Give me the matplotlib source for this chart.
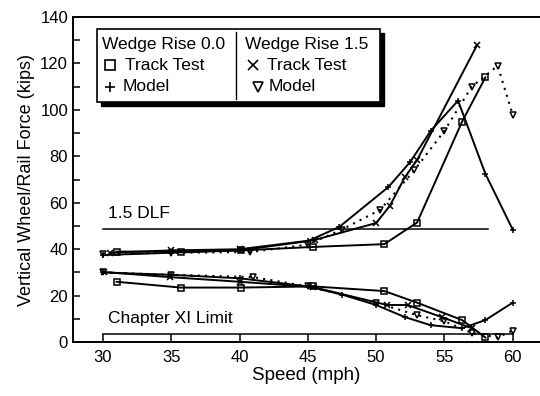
import matplotlib.pyplot as plt
from matplotlib.patches import Rectangle
from matplotlib.lines import Line2D

plt.rcParams['font.family'] = ['Liberation Sans', 'DejaVu Sans']

# Wedge Rise 0.0, track test (max and min forces)
tt0_x = [31, 35.7, 40.1, 45.4, 50.6, 53, 56.3, 58]
tt0_hi = [39, 39, 39.5, 41, 42.2, 51.5, 95, 114]
tt0_lo = [26, 23.5, 23.5, 24, 22, 17, 9.5, 2]

# Wedge Rise 0.0, model
md0_x_hi = [30, 35, 40, 45, 47.3, 50.9, 52.5, 54, 56, 58, 60]
md0_hi = [37.5, 38.5, 39.5, 43.5, 49.6, 66.8, 77.6, 91, 104, 72.5, 48.5]
md0_x_lo = [30, 35, 40, 45, 47.5, 50, 52.1, 54, 56.3, 58, 60]
md0_lo = [30, 29, 27.5, 24, 20.5, 16, 10.8, 7.3, 6, 9.5, 17]

# Wedge Rise 1.5, track test
tt1_x_hi = [30.5, 35, 40, 45.5, 50, 51, 52.1, 53, 57.4]
tt1_hi = [38.5, 39.5, 40, 44, 51.3, 58.6, 71, 78.4, 128]
tt1_x_lo = [30.1, 34.9, 40, 45.4, 50.8, 52.3, 54.8, 57]
tt1_lo = [30.2, 28, 26, 23.7, 16, 16, 10.8, 6]

# Wedge Rise 1.5, model
md1_x_hi = [30, 35, 40.8, 45, 47.5, 50.3, 52.8, 55, 57, 58.9, 60]
md1_hi = [38, 38.5, 38.8, 42, 48.5, 57, 74, 91, 110, 119, 98]
md1_x_lo = [30, 35, 41, 45, 50, 53, 55, 57, 58.9, 60]
md1_lo = [30, 29, 28, 24, 17, 11.6, 9, 4, 2, 5]

dlf_level = 48.7
limit_level = 3.5

fig = plt.figure(figsize=(5.4, 3.96), dpi=100)
ax = fig.add_axes([0.135, 0.136, 0.865, 0.821])

k = dict(color='black', lw=1.4, mfc='none', mec='black', ms=5, mew=1.1)
ax.plot(tt0_x, tt0_hi, marker='s', **k)
ax.plot(tt0_x, tt0_lo, marker='s', **k)
ax.plot(md0_x_hi, md0_hi, marker='+', **k)
ax.plot(md0_x_lo, md0_lo, marker='+', **k)
ax.plot(tt1_x_hi, tt1_hi, marker='x', **k)
ax.plot(tt1_x_lo, tt1_lo, marker='x', **k)
ax.plot(md1_x_hi, md1_hi, marker='v', ls=(0, (1, 2.5)), **{**k, 'lw': 1.5})
ax.plot(md1_x_lo, md1_lo, marker='v', ls=(0, (1, 2.5)), **{**k, 'lw': 1.5})

ax.plot([30, 58.2], [dlf_level, dlf_level], color='black', lw=1.1)
ax.plot([30, 60], [limit_level, limit_level], color='black', lw=1.1)
ax.text(30.4, 52, '1.5 DLF', fontsize=12.5, va='bottom')
ax.text(30.4, 10.3, 'Chapter XI Limit', fontsize=12.5, va='center')

ax.set_xlim(27.8, 62)
ax.set_ylim(0, 140)
ax.set_xticks([30, 35, 40, 45, 50, 55, 60])
ax.set_yticks(range(0, 141, 20))
ax.set_yticks(range(10, 140, 20), minor=True)
ax.tick_params(axis='x', direction='in', length=6.1, width=1.1, labelsize=12, pad=6)
ax.tick_params(axis='y', direction='in', length=5, width=1.1, labelsize=12)
ax.tick_params(axis='y', which='minor', direction='in', length=5, width=1.1)
ax.spines['right'].set_visible(False)
for s in ['left', 'bottom', 'top']:
    ax.spines[s].set_linewidth(1.4)

ax.set_xlabel('Speed (mph)', fontsize=13.5, labelpad=1)
ax.set_ylabel('Vertical Wheel/Rail Force (kips)', fontsize=13, labelpad=4)

# legend box drawn by hand (two titled columns, drop shadow)
T = ax.transAxes
x0, x1, yb, yt = 0.0514, 0.657, 0.738, 0.963
ax.add_patch(Rectangle((x0 + 0.008, yb - 0.012), x1 - x0, yt - yb, transform=T,
                       facecolor='black', edgecolor='black', zorder=5, clip_on=False))
ax.add_patch(Rectangle((x0, yb), x1 - x0, yt - yb, transform=T,
                       facecolor='white', edgecolor='black', lw=1.2, zorder=6, clip_on=False))
ax.add_line(Line2D([0.349, 0.349], [yb + 0.01, yt - 0.01], transform=T, color='black', lw=1, zorder=7))

rows = [0.914, 0.852, 0.785]
fs = 12.5
ax.text(0.062, rows[0], 'Wedge Rise 0.0', transform=T, fontsize=fs, va='center', zorder=7)
ax.text(0.368, rows[0], 'Wedge Rise 1.5', transform=T, fontsize=fs, va='center', zorder=7)
ax.text(0.111, rows[1], 'Track Test', transform=T, fontsize=fs, va='center', zorder=7)
ax.text(0.107, rows[2], 'Model', transform=T, fontsize=fs, va='center', zorder=7)
ax.text(0.415, rows[1], 'Track Test', transform=T, fontsize=fs, va='center', zorder=7)
ax.text(0.418, rows[2], 'Model', transform=T, fontsize=fs, va='center', zorder=7)
for mx, my, m in [(0.079, rows[1], 's'), (0.079, rows[2], '+'),
                  (0.385, rows[1], 'x'), (0.396, rows[2], 'v')]:
    ax.add_line(Line2D([mx], [my], transform=T, marker=m, ms=7, mfc='none',
                       mec='black', mew=1.2, zorder=7))

plt.savefig('out.png', dpi=100)
